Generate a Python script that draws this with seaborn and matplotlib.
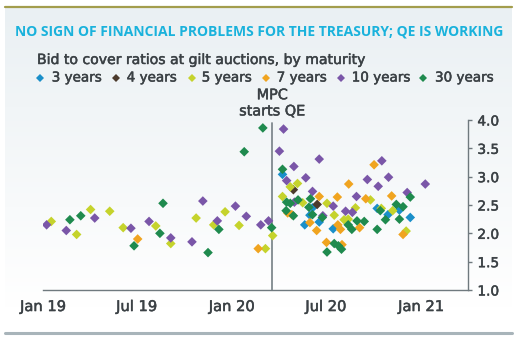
import numpy as np
import pandas as pd
import matplotlib
matplotlib.use("Agg")
import matplotlib.pyplot as plt
import matplotlib.dates as mdates
import matplotlib.patheffects as pe
from matplotlib.lines import Line2D
import seaborn as sns

# ---------------- data ----------------
dates_3y = ["2020-04-08", "2020-05-21", "2020-05-31", "2020-06-05", "2020-06-18",
            "2020-07-15", "2020-10-08", "2020-10-29", "2020-11-20", "2020-12-11"]
vals_3y = [3.04, 2.15, 2.32, 2.45, 2.20, 2.08, 2.44, 2.33, 2.41, 2.28]

dates_4y = ["2020-04-29", "2020-06-14"]
vals_4y = [2.77, 2.51]

dates_5y = ["2019-01-17", "2019-03-07", "2019-04-03", "2019-05-10", "2019-06-05",
            "2019-08-07", "2019-09-05", "2019-10-24", "2019-11-27", "2019-12-19",
            "2020-01-15", "2020-03-06", "2020-03-20", "2020-04-08", "2020-04-23",
            "2020-05-07", "2020-05-17", "2020-07-03", "2020-07-17", "2020-08-05",
            "2020-08-13", "2020-08-27", "2020-09-25", "2020-10-16", "2020-11-07",
            "2020-12-03"]
vals_5y = [2.21, 1.98, 2.42, 2.39, 2.10, 2.13, 1.82, 2.27, 2.15, 2.38,
           2.14, 1.73, 1.96, 2.65, 2.82, 2.88, 2.54, 2.53, 2.32, 2.24,
           2.25, 2.45, 2.59, 2.44, 2.40, 2.04]

dates_7y = ["2019-07-03", "2020-02-21", "2020-04-18", "2020-04-26", "2020-05-31",
            "2020-06-13", "2020-06-18", "2020-07-02", "2020-07-23", "2020-07-24",
            "2020-07-29", "2020-08-01", "2020-08-14", "2020-09-04", "2020-09-16",
            "2020-10-02", "2020-11-05", "2020-11-27"]
vals_7y = [1.90, 1.73, 2.36, 2.33, 2.19, 2.05, 2.65, 1.84, 2.64, 2.15,
           2.07, 1.80, 2.87, 2.10, 2.61, 3.21, 2.66, 1.98]

dates_10y = ["2019-01-08", "2019-02-15", "2019-04-11", "2019-06-20", "2019-07-25",
             "2019-09-05", "2019-10-16", "2019-11-06", "2019-12-04", "2020-01-08",
             "2020-01-29", "2020-02-26", "2020-03-12", "2020-04-02", "2020-04-10",
             "2020-04-16", "2020-04-30", "2020-05-01", "2020-05-23", "2020-06-05",
             "2020-06-18", "2020-06-25", "2020-07-15", "2020-08-08", "2020-08-21",
             "2020-08-29", "2020-09-19", "2020-10-10", "2020-10-17", "2020-10-30",
             "2020-12-05", "2021-01-09"]
vals_10y = [2.15, 2.05, 2.27, 2.09, 2.21, 1.92, 1.85, 2.57, 2.22, 2.48,
            2.30, 2.15, 2.22, 3.45, 3.84, 2.93, 3.18, 2.55, 2.98, 2.74,
            3.31, 2.31, 2.48, 2.39, 2.37, 2.65, 2.95, 2.83, 3.28, 2.99,
            2.72, 2.87]

dates_30y = ["2019-02-22", "2019-03-15", "2019-06-26", "2019-08-15", "2019-08-21",
             "2019-11-16", "2019-12-07", "2020-01-25", "2020-03-01", "2020-03-18",
             "2020-04-08", "2020-04-15", "2020-04-16", "2020-04-23", "2020-04-29",
             "2020-05-08", "2020-05-29", "2020-06-01", "2020-06-05", "2020-06-24",
             "2020-07-03", "2020-07-17", "2020-07-25", "2020-07-31", "2020-08-13",
             "2020-08-20", "2020-08-30", "2020-09-13", "2020-10-08", "2020-10-14",
             "2020-10-24", "2020-11-14", "2020-11-20", "2020-11-27", "2020-12-11"]
vals_30y = [2.24, 2.31, 1.78, 2.00, 2.53, 1.66, 2.07, 3.44, 3.86, 2.10,
            3.13, 2.40, 2.55, 2.53, 2.31, 2.59, 2.46, 2.61, 2.33, 2.28,
            1.67, 1.82, 1.78, 1.72, 2.15, 2.07, 2.22, 2.21, 2.07, 2.40,
            2.24, 2.51, 2.25, 2.47, 2.64]

series_names = ["3 years", "4 years", "5 years", "7 years", "10 years", "30 years"]
series_colors = ["#1a8fc9", "#4b3a2c", "#c5d32c", "#f0a420", "#7a56a8", "#1f8a4e"]

mpc_date = "2020-03-19"
mpc_label = "MPC\nstarts QE"
title = "NO SIGN OF FINANCIAL PROBLEMS FOR THE TREASURY; QE IS WORKING"
subtitle = "Bid to cover ratios at gilt auctions, by maturity"
y_ticks = [1.0, 1.5, 2.0, 2.5, 3.0, 3.5, 4.0]

# ---------------- frame ----------------
all_dates = [dates_3y, dates_4y, dates_5y, dates_7y, dates_10y, dates_30y]
all_vals = [vals_3y, vals_4y, vals_5y, vals_7y, vals_10y, vals_30y]
frames = []
for name, d, v in zip(series_names, all_dates, all_vals):
    frames.append(pd.DataFrame({"date": pd.to_datetime(d), "ratio": v, "maturity": name}))
df = pd.concat(frames, ignore_index=True)

BODY = ["DejaVu Sans"]
TITLEF = ["Open Sans", "DejaVu Sans"]
sns.set_style("white")
plt.rcParams["font.family"] = BODY

W, H = 521, 343
fig = plt.figure(figsize=(W / 100, H / 100), dpi=100)
fig.patch.set_facecolor("white")
renderer = fig.canvas.get_renderer()


def fit_size(s, target_px, weight="normal", family=BODY, base=10.0):
    t = fig.text(0, 0, s, fontsize=base, fontweight=weight, family=family)
    w = t.get_window_extent(renderer=renderer).width
    t.remove()
    return base * target_px / w


TEXT_C = "#3b4145"
HEAVY = [pe.withStroke(linewidth=0.35, foreground=TEXT_C)]

# background panel with gradient
bg = fig.add_axes([5 / W, 1 - 333 / H, (512 - 5) / W, (333 - 7) / H], zorder=0)
grad = np.linspace(0, 1, 256).reshape(-1, 1)
top_c = np.array(matplotlib.colors.to_rgb("#eaf0f3"))
bot_c = np.array(matplotlib.colors.to_rgb("#ffffff"))
t = np.clip(grad / 0.92, 0, 1)
img = top_c * (1 - t[..., None]) + bot_c * t[..., None]
bg.imshow(img, aspect="auto", extent=[0, 1, 0, 1], origin="upper")
bg.set_axis_off()
fig.add_artist(Line2D([5 / W, 512 / W], [1 - 6.5 / H, 1 - 6.5 / H], color="#a39d4c", lw=1.6, zorder=2))
fig.add_artist(Line2D([5 / W, 512 / W], [1 - 333 / H, 1 - 333 / H], color="#a8b4ba", lw=2.2, zorder=2))

ax = fig.add_axes([43 / W, 1 - 290 / H, (467.7 - 43) / W, (290 - 120) / H], zorder=3)
ax.patch.set_alpha(0)

sns.scatterplot(data=df, x="date", y="ratio", hue="maturity", hue_order=series_names,
                palette=series_colors, marker="D", s=24, linewidth=0, legend=False,
                ax=ax, zorder=4)

ax.set_xlim(pd.Timestamp("2019-01-01"), pd.Timestamp("2021-04-01"))
ax.set_ylim(1.0, 4.0)
ax.axvline(pd.Timestamp(mpc_date), ymax=0.985, color="#7f898e", lw=1.3, zorder=3)

mpc_fs = fit_size("starts QE", 66)
ax.annotate(mpc_label, xy=(pd.Timestamp(mpc_date), 4.0), xytext=(0, 12),
            textcoords="offset points", ha="center", va="center",
            fontsize=mpc_fs, color=TEXT_C, linespacing=1.2, annotation_clip=False,
            path_effects=HEAVY)

ax.xaxis.set_major_locator(mdates.MonthLocator(bymonth=[1, 7]))
ax.xaxis.set_major_formatter(mdates.DateFormatter("%b %y"))
ax.xaxis.set_minor_locator(mdates.MonthLocator())
ax.yaxis.tick_right()
ax.set_yticks(y_ticks)
ax.set_yticklabels([f"{v:.1f}" for v in y_ticks])
ax.set_xlabel("")
ax.set_ylabel("")

xt_fs = fit_size("Jan 19", 46)
yt_fs = fit_size("4.0", 21.5)

spine_c = "#6f797e"
for s in ["left", "top"]:
    ax.spines[s].set_visible(False)
for s in ["right", "bottom"]:
    ax.spines[s].set_color(spine_c)
    ax.spines[s].set_linewidth(1.0)
ax.tick_params(axis="x", which="major", direction="out", length=4, width=1, color=spine_c,
               labelsize=xt_fs, labelcolor=TEXT_C, pad=2.5)
ax.tick_params(axis="x", which="minor", direction="out", length=2.5, width=0.8, color=spine_c)
ax.tick_params(axis="y", which="major", direction="out", length=3, width=1, color=spine_c,
               labelsize=yt_fs, labelcolor=TEXT_C, pad=4, right=True, left=False)
for lab in ax.get_xticklabels() + ax.get_yticklabels():
    lab.set_path_effects(HEAVY)

# titles
title_fs = fit_size(title, 487, "bold", TITLEF)
fig.text(15 / W, 1 - 31 / H, title, ha="left", va="center", fontsize=title_fs,
         fontweight="bold", color="#1ab2dc", family=TITLEF)
sub_fs = fit_size(subtitle, 329)
fig.text(37 / W, 1 - 60 / H, subtitle, ha="left", va="center", fontsize=sub_fs,
         color=TEXT_C, path_effects=HEAVY)

# legend entries placed individually
leg_marker_x = [40, 115.7, 191.7, 265.7, 340.7, 422.7]
leg_text_x = [51.7, 126.7, 201.7, 276.7, 351.7, 435]
leg_fs = fit_size("3 years", 50)
leg_y = 1 - 77.5 / H
for name, col, mx, tx in zip(series_names, series_colors, leg_marker_x, leg_text_x):
    fig.add_artist(Line2D([mx / W], [leg_y], marker="D", linestyle="", markersize=4.2,
                          color=col, markeredgewidth=0, zorder=5))
    fig.text(tx / W, leg_y, name, ha="left", va="center", fontsize=leg_fs, color=TEXT_C,
             path_effects=HEAVY)

fig.savefig("out.png", dpi=100, facecolor="white")
